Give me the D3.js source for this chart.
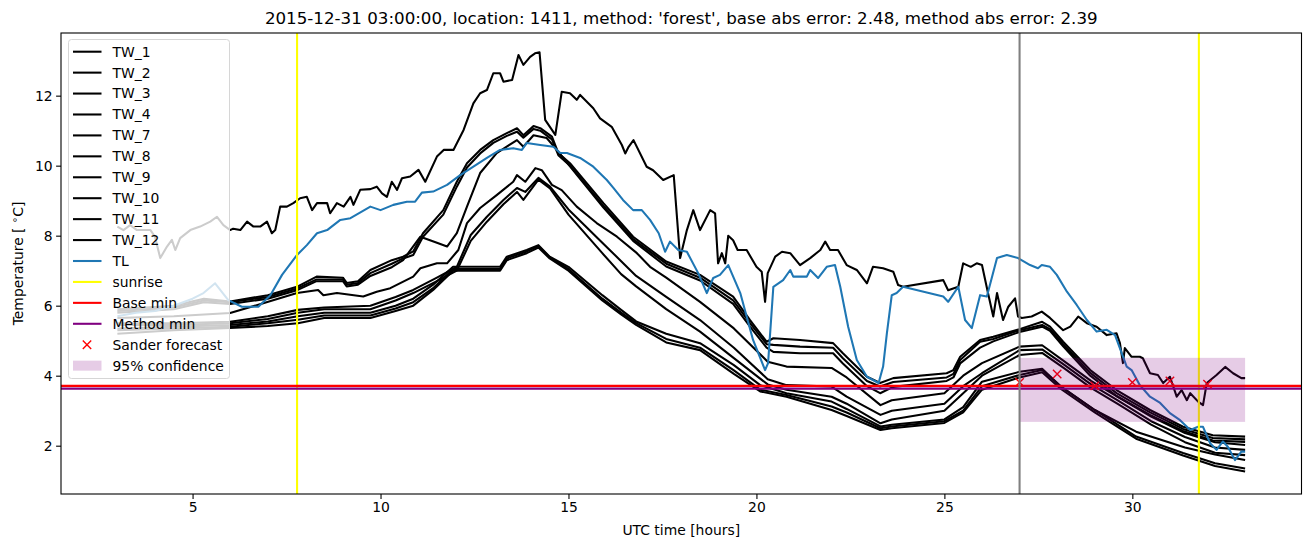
<!DOCTYPE html>
<html>
<head>
<meta charset="utf-8">
<script src="https://cdn.jsdelivr.net/npm/d3@7"></script>
<style>
  body { margin: 0; background: #fff; }
  svg { font-family: "DejaVu Sans", sans-serif; }
</style>
</head>
<body>
<svg id="chart"></svg>
<script>
// series: [hour, temperature]
const tw1 = [[3,8.26],[3.16,8.16],[3.34,8.3],[3.52,8.16],[3.88,8.16],[4.0,7.97],[4.14,7.36],[4.32,7.69],[4.45,7.88],[4.54,7.59],[4.67,7.93],[4.94,8.16],[5.2,8.26],[5.47,8.4],[5.65,8.54],[5.82,8.3],[6.0,8.16],[6.08,8.2],[6.27,8.16],[6.45,8.4],[6.62,8.26],[6.8,8.26],[6.98,8.4],[7.11,8.07],[7.2,8.16],[7.33,8.83],[7.51,8.83],[7.68,8.93],[7.86,9.07],[8.04,9.11],[8.18,8.73],[8.31,8.93],[8.58,8.93],[8.66,8.64],[8.84,8.93],[9.02,8.83],[9.2,9.11],[9.28,8.88],[9.46,9.31],[9.73,9.33],[9.9,9.4],[10.04,9.21],[10.17,9.11],[10.3,9.54],[10.44,9.31],[10.57,9.64],[10.79,9.69],[11.01,9.88],[11.19,9.54],[11.5,10.26],[11.68,10.45],[11.94,10.45],[12.21,11.02],[12.47,11.78],[12.65,12.07],[12.83,12.16],[13.0,12.64],[13.18,12.64],[13.27,12.4],[13.5,12.45],[13.67,13.16],[13.8,12.88],[13.98,13.11],[14.11,13.21],[14.23,13.24],[14.38,11.31],[14.65,10.88],[14.82,12.11],[15.04,12.07],[15.22,11.88],[15.31,12.02],[15.66,11.64],[15.84,11.35],[16.15,11.11],[16.42,10.59],[16.51,10.35],[16.6,10.54],[16.73,10.73],[17.08,9.97],[17.25,9.87],[17.52,9.59],[17.8,9.73],[17.97,7.36],[18.15,8.16],[18.32,8.73],[18.5,8.16],[18.77,8.73],[18.9,8.64],[18.98,7.21],[19.08,7.5],[19.17,7.21],[19.25,8.0],[19.38,7.87],[19.5,7.59],[19.74,7.59],[20.0,7.11],[20.14,6.97],[20.23,6.11],[20.3,6.93],[20.5,7.4],[20.68,7.54],[20.9,7.5],[21.16,7.16],[21.43,7.36],[21.7,7.59],[21.83,7.83],[21.96,7.59],[22.17,7.59],[22.4,7.16],[22.67,7.02],[22.94,6.64],[23.1,7.11],[23.37,7.07],[23.64,6.97],[23.77,6.59],[23.9,6.54],[24.97,6.73],[25.1,6.44],[25.37,6.54],[25.5,7.21],[25.7,7.11],[25.86,7.21],[26.0,7.16],[26.16,6.36],[26.3,5.69],[26.4,6.36],[26.56,5.59],[26.7,5.97],[26.88,6.21],[26.96,5.69],[27.06,5.65],[27.32,5.69],[27.59,5.83],[27.81,5.65],[28.16,5.3],[28.35,5.4],[28.56,5.69],[28.79,5.5],[29.05,5.4],[29.32,5.16],[29.58,5.21],[29.67,4.93],[29.75,4.36],[29.8,4.79],[29.98,4.54],[30.2,4.54],[30.28,4.5],[30.47,4.07],[30.68,4.02],[30.82,3.79],[31.0,3.97],[31.18,3.4],[31.31,3.59],[31.45,3.3],[31.54,3.5],[31.75,3.26],[31.88,3.16],[31.98,3.79],[32.24,4.02],[32.47,4.25],[32.68,4.07],[32.9,3.93],[33.0,3.93]];

const tw2 = [[3,5.9],[4.5,6.0],[5.3,6.2],[6.0,6.12],[7.0,6.3],[7.8,6.55],[8.3,6.83],[9.0,6.8],[9.1,6.65],[9.4,6.7],[9.73,7.02],[10.3,7.3],[10.6,7.4],[10.87,7.55],[11.13,8.07],[11.67,8.73],[12.03,9.54],[12.3,10.07],[12.65,10.45],[13.0,10.73],[13.36,10.93],[13.63,11.07],[13.8,10.87],[14.07,11.13],[14.25,11.07],[14.56,10.83],[14.73,10.36],[15.04,10.07],[15.93,8.93],[16.72,7.97],[17.6,7.26],[18.5,6.88],[19.38,6.26],[19.83,5.59],[20.27,4.97],[20.45,5.07],[21.16,5.02],[22.04,4.93],[22.3,4.64],[22.94,3.97],[23.29,3.79],[23.64,3.93],[25.06,4.07],[25.24,4.16],[25.42,4.54],[25.95,5.02],[26.3,5.11],[27.0,5.33],[27.6,5.54],[27.81,5.4],[28.16,4.97],[28.88,4.16],[29.58,3.59],[30.47,3.02],[31.35,2.54],[32.14,2.3],[33,2.26]];
const tw3 = [[3,5.85],[4.5,5.95],[5.3,6.15],[6.0,6.1],[7.0,6.25],[7.8,6.5],[8.3,6.75],[9.0,6.75],[9.1,6.6],[9.4,6.65],[9.73,6.93],[10.3,7.2],[10.6,7.35],[10.87,7.45],[11.13,7.97],[11.67,8.6],[12.03,9.4],[12.3,9.95],[12.65,10.35],[13.0,10.65],[13.36,10.85],[13.63,10.97],[13.8,10.8],[14.07,11.05],[14.25,11.0],[14.56,10.75],[14.73,10.3],[15.04,10.0],[15.93,8.85],[16.72,7.9],[17.6,7.2],[18.5,6.8],[19.38,6.15],[19.83,5.5],[20.27,4.9],[20.45,4.88],[21.16,4.83],[22.04,4.8],[22.3,4.5],[22.94,3.85],[23.29,3.69],[23.64,3.82],[25.06,3.95],[25.24,4.05],[25.42,4.45],[25.95,4.97],[26.3,5.05],[27.0,5.3],[27.6,5.45],[27.81,5.33],[28.16,4.9],[28.88,4.08],[29.58,3.5],[30.47,2.95],[31.35,2.48],[32.14,2.22],[33,2.18]];
const tw4 = [[3,5.8],[4.5,5.9],[5.3,6.1],[6.0,6.05],[7.0,6.2],[7.8,6.45],[8.3,6.7],[9.0,6.7],[9.1,6.55],[9.4,6.6],[9.73,6.85],[10.3,7.1],[10.6,7.3],[11.06,7.97],[11.5,7.8],[11.77,7.69],[12.03,8.07],[12.3,8.83],[12.65,9.79],[13.09,10.36],[13.63,10.73],[13.8,10.54],[14.07,10.87],[14.42,10.79],[14.69,10.45],[15.04,9.98],[15.93,8.8],[16.72,7.85],[17.6,7.12],[18.5,6.72],[19.38,6.05],[19.83,5.4],[20.27,4.8],[20.45,4.68],[21.16,4.64],[22.04,4.64],[22.3,4.35],[22.94,3.7],[23.29,3.5],[23.64,3.68],[25.06,3.85],[25.24,3.95],[25.42,4.35],[25.95,4.8],[26.3,4.98],[27.0,5.25],[27.6,5.4],[27.81,5.28],[28.16,4.84],[28.88,4.0],[29.58,3.42],[30.47,2.88],[31.35,2.42],[32.14,2.15],[33,2.11]];
const tw7 = [[3,5.65],[4.5,5.7],[6.0,5.79],[6.88,6.07],[7.78,6.36],[8.34,6.45],[8.48,6.3],[8.84,6.36],[9.54,6.26],[9.9,6.4],[10.26,6.5],[10.87,6.83],[11.06,7.07],[11.5,7.21],[11.77,7.21],[12.07,7.59],[12.3,8.36],[12.65,8.79],[13.09,9.16],[13.53,9.54],[13.63,9.73],[13.85,9.54],[14.12,9.93],[14.29,9.87],[14.56,9.45],[14.82,9.3],[15.22,8.83],[15.75,8.36],[16.29,7.97],[16.82,7.5],[17.17,7.11],[17.6,6.8],[18.5,6.11],[19.4,5.35],[20.3,4.4],[20.8,4.26],[22.0,4.22],[22.4,3.95],[23.3,3.16],[23.6,3.3],[25.0,3.5],[25.5,4.0],[26.0,4.36],[27.0,4.83],[27.6,4.87],[28.2,4.4],[28.9,3.85],[29.6,3.4],[30.5,2.83],[31.4,2.36],[32.2,2.1],[33,2.02]];
const tw8 = [[3,5.5],[4.5,5.5],[6.0,5.54],[7.0,5.7],[7.8,5.88],[8.5,5.95],[9.73,6.0],[10.4,6.25],[10.87,6.45],[11.5,6.8],[12.03,7.11],[12.4,8.02],[12.83,8.54],[13.27,9.02],[13.63,9.36],[13.85,9.25],[14.2,9.65],[14.51,9.4],[15.0,8.75],[15.9,7.8],[16.8,6.85],[17.6,6.25],[18.5,5.59],[19.4,4.8],[20.3,3.9],[20.8,3.73],[22.0,3.69],[22.4,3.4],[23.3,2.88],[23.6,3.0],[25.0,3.2],[25.5,3.7],[26.0,4.07],[27.0,4.73],[27.6,4.75],[28.2,4.3],[28.9,3.75],[29.6,3.3],[30.5,2.7],[31.4,2.25],[32.2,1.95],[33,1.88]];
const tw9 = [[3,5.45],[4.5,5.45],[6.0,5.5],[7.0,5.62],[7.8,5.8],[8.5,5.9],[9.73,5.9],[10.4,6.15],[10.87,6.36],[11.5,6.7],[12.03,7.0],[12.4,7.85],[12.83,8.4],[13.27,8.9],[13.63,9.25],[13.8,9.02],[14.2,9.6],[14.51,9.35],[15.0,8.6],[15.9,7.5],[16.4,6.9],[16.8,6.55],[17.6,5.9],[18.5,5.26],[19.4,4.5],[20.3,3.75],[20.8,3.6],[22.0,3.4],[22.4,3.2],[23.3,2.64],[23.6,2.75],[25.0,3.0],[25.5,3.5],[26.0,4.0],[27.0,4.59],[27.6,4.65],[28.2,4.2],[28.9,3.65],[29.6,3.2],[30.5,2.6],[31.4,2.1],[32.2,1.8],[33,1.73]];
const tw10 = [[3,5.35],[4.5,5.4],[6.0,5.45],[7.0,5.55],[7.8,5.7],[8.5,5.8],[9.73,5.8],[10.4,6.0],[10.87,6.2],[11.4,6.6],[11.93,7.11],[13.18,7.11],[13.36,7.4],[13.89,7.59],[14.2,7.73],[14.5,7.4],[15.0,7.11],[15.9,6.3],[16.4,5.88],[16.8,5.55],[17.6,5.2],[18.5,4.93],[19.4,4.3],[20.1,3.73],[20.8,3.5],[22.0,3.26],[22.4,3.05],[23.3,2.55],[23.6,2.6],[25.0,2.75],[25.5,3.1],[26.0,3.83],[27.0,4.11],[27.6,4.2],[28.1,3.69],[29.0,3.02],[30.1,2.4],[31.4,1.95],[32.2,1.75],[33,1.59]];
const tw11 = [[3,5.3],[4.5,5.35],[6.0,5.4],[7.0,5.5],[7.8,5.6],[8.5,5.72],[9.73,5.72],[10.4,5.92],[10.87,6.1],[11.4,6.5],[11.93,7.05],[13.18,7.05],[13.36,7.35],[13.89,7.55],[14.2,7.7],[14.5,7.38],[15.0,7.05],[15.9,6.2],[16.4,5.8],[16.8,5.5],[17.6,5.05],[18.5,4.8],[19.4,4.15],[20.1,3.6],[20.8,3.45],[22.0,3.12],[22.4,2.95],[23.3,2.5],[23.6,2.55],[25.0,2.7],[25.5,3.0],[26.0,3.7],[27.0,4.02],[27.6,4.16],[28.1,3.69],[29.0,3.02],[30.1,2.26],[31.35,1.79],[32.2,1.5],[33,1.35]];
const tw12 = [[3,5.2],[4.5,5.3],[6.0,5.36],[7.0,5.42],[7.8,5.5],[8.5,5.65],[9.73,5.65],[10.4,5.85],[10.87,6.0],[11.4,6.45],[11.93,7.0],[13.18,7.0],[13.36,7.3],[13.89,7.5],[14.2,7.66],[14.5,7.35],[15.0,7.0],[15.9,6.15],[16.4,5.75],[16.8,5.45],[17.6,4.95],[18.5,4.73],[19.4,4.05],[20.1,3.55],[20.8,3.4],[22.0,3.02],[22.4,2.85],[23.3,2.45],[23.6,2.5],[25.0,2.65],[25.5,2.95],[26.0,3.6],[27.0,3.95],[27.6,4.1],[28.1,3.62],[29.0,2.95],[30.1,2.2],[31.35,1.72],[32.2,1.42],[33,1.26]];

const tl = [[3,5.7],[3.5,5.8],[4.0,5.85],[4.5,6.0],[5.0,6.2],[5.29,6.36],[5.6,6.64],[5.95,6.16],[6.31,5.97],[6.75,5.97],[7.07,6.3],[7.38,6.88],[7.78,7.45],[8.04,7.73],[8.31,8.07],[8.58,8.16],[8.93,8.45],[9.2,8.5],[9.73,8.83],[10.0,8.73],[10.34,8.88],[10.7,8.97],[10.92,8.97],[11.1,9.23],[11.4,9.26],[11.77,9.45],[12.12,9.73],[12.47,9.97],[12.83,10.22],[13.18,10.45],[13.53,10.5],[13.76,10.45],[13.89,10.65],[14.25,10.59],[14.6,10.54],[14.78,10.36],[14.96,10.36],[15.31,10.22],[15.66,9.97],[16.02,9.59],[16.2,9.36],[16.45,9.02],[16.72,8.73],[16.95,8.73],[17.17,8.45],[17.4,8.07],[17.57,7.54],[17.7,7.83],[17.92,7.59],[18.15,7.54],[18.45,6.93],[18.68,6.36],[18.85,6.79],[19.03,6.88],[19.25,7.16],[19.57,6.36],[19.91,5.02],[20.23,4.16],[20.31,4.36],[20.45,6.54],[20.71,6.73],[20.9,7.02],[20.98,6.83],[21.34,6.83],[21.43,7.02],[21.64,6.79],[21.87,7.11],[22.09,7.16],[22.23,6.54],[22.44,5.4],[22.67,4.45],[22.94,3.97],[23.25,3.79],[23.37,4.26],[23.47,5.21],[23.6,6.3],[23.73,6.36],[23.9,6.54],[24.97,6.26],[25.1,6.11],[25.37,6.54],[25.55,5.59],[25.73,5.36],[25.95,6.3],[26.13,6.26],[26.4,7.36],[26.66,7.45],[26.96,7.36],[27.28,7.16],[27.49,7.07],[27.59,7.16],[27.81,7.11],[27.99,6.88],[28.26,6.4],[28.52,6.02],[28.79,5.59],[29.05,5.26],[29.32,5.31],[29.54,5.16],[29.85,4.26],[29.98,4.16],[30.2,3.73],[30.47,3.4],[30.74,3.22],[31.0,2.93],[31.27,2.73],[31.54,2.45],[31.75,2.54],[31.88,2.54],[32.07,2.07],[32.24,1.88],[32.41,2.12],[32.54,1.97],[32.73,1.59],[32.9,1.83],[33.0,1.83]];

const twNames = ['TW_1', 'TW_2', 'TW_3', 'TW_4', 'TW_7', 'TW_8', 'TW_9', 'TW_10', 'TW_11', 'TW_12'];
const twSeries = [tw1, tw2, tw3, tw4, tw7, tw8, tw9, tw10, tw11, tw12];

const sunrise = [7.78, 31.77];
const nowHour = 27;
const baseMin = 3.71;
const methodMin = 3.63;
const forecastHours = [27, 28, 29, 30, 31, 32];
const forecastValues = [3.81, 4.05, 3.71, 3.81, 3.85, 3.76];
const confidence = { x0: 27, x1: 33, lo: 2.68, hi: 4.51 };

const xTicks = [5, 10, 15, 20, 25, 30];
const yTicks = [2, 4, 6, 8, 10, 12];

const width = 1310, height = 547;
const plot = { left: 61, right: 1301.5, top: 33, bottom: 494 };
const lw = 2.08; // 1.5pt at 100 dpi

const svg = d3.select('#chart')
    .attr('width', width)
    .attr('height', height);

const x = d3.scaleLinear().domain([1.5, 34.5]).range([plot.left, plot.right]);
const y = d3.scaleLinear().domain([0.62, 13.79]).range([plot.bottom, plot.top]);

svg.append('defs').append('clipPath').attr('id', 'clip')
    .append('rect')
        .attr('x', plot.left).attr('y', plot.top)
        .attr('width', plot.right - plot.left)
        .attr('height', plot.bottom - plot.top);

const g = svg.append('g').attr('clip-path', 'url(#clip)');

const line = d3.line().x(d => x(d[0])).y(d => y(d[1]));

g.selectAll('path.tw')
    .data(twSeries)
    .join('path')
        .attr('class', 'tw')
        .attr('d', line)
        .attr('fill', 'none')
        .attr('stroke', '#000')
        .attr('stroke-width', lw)
        .attr('stroke-linejoin', 'round');

g.append('path')
    .attr('d', line(tl))
    .attr('fill', 'none')
    .attr('stroke', '#1f77b4')
    .attr('stroke-width', lw)
    .attr('stroke-linejoin', 'round');

g.selectAll('line.sunrise')
    .data(sunrise)
    .join('line')
        .attr('x1', d => x(d)).attr('x2', d => x(d))
        .attr('y1', plot.top).attr('y2', plot.bottom)
        .attr('stroke', '#ffff00')
        .attr('stroke-width', lw);

g.append('line')
    .attr('x1', plot.left).attr('x2', plot.right)
    .attr('y1', y(baseMin)).attr('y2', y(baseMin))
    .attr('stroke', '#ff0000').attr('stroke-width', lw);

g.append('line')
    .attr('x1', plot.left).attr('x2', plot.right)
    .attr('y1', y(methodMin)).attr('y2', y(methodMin))
    .attr('stroke', '#800080').attr('stroke-width', lw);

const forecast = forecastHours.map((h, i) => [h, forecastValues[i]]);
const cross = (sel, s) => sel.append('path')
    .attr('d', `M${-s},${-s}L${s},${s}M${-s},${s}L${s},${-s}`)
    .attr('stroke', '#ff0000')
    .attr('stroke-width', 1.4)
    .attr('fill', 'none');

g.selectAll('g.fc')
    .data(forecast)
    .join('g')
        .attr('class', 'fc')
        .attr('transform', d => `translate(${x(d[0])},${y(d[1])})`)
        .each(function() { cross(d3.select(this), 4.2); });

g.append('rect')
    .attr('x', x(confidence.x0))
    .attr('y', y(confidence.hi))
    .attr('width', x(confidence.x1) - x(confidence.x0))
    .attr('height', y(confidence.lo) - y(confidence.hi))
    .attr('fill', '#800080')
    .attr('fill-opacity', 0.2);

g.append('line')
    .attr('x1', x(nowHour)).attr('x2', x(nowHour))
    .attr('y1', plot.top).attr('y2', plot.bottom)
    .attr('stroke', '#808080').attr('stroke-width', lw);

// axes
const xAxis = svg.append('g')
    .attr('transform', `translate(0,${plot.bottom})`)
    .call(d3.axisBottom(x).tickValues(xTicks).tickSize(4.9).tickPadding(3.5));
const yAxis = svg.append('g')
    .attr('transform', `translate(${plot.left},0)`)
    .call(d3.axisLeft(y).tickValues(yTicks).tickSize(4.9).tickPadding(3.5));

[xAxis, yAxis].forEach(a => {
    a.select('.domain').remove();
    a.selectAll('.tick line').attr('stroke', '#000').attr('stroke-width', 1.1);
    a.selectAll('.tick text')
        .attr('fill', '#000')
        .attr('font-size', '13.9px')
        .attr('font-family', 'DejaVu Sans, sans-serif');
});

svg.append('rect')
    .attr('x', plot.left).attr('y', plot.top)
    .attr('width', plot.right - plot.left)
    .attr('height', plot.bottom - plot.top)
    .attr('fill', 'none')
    .attr('stroke', '#000')
    .attr('stroke-width', 1.1);

// labels
svg.append('text')
    .attr('x', (plot.left + plot.right) / 2)
    .attr('y', 24)
    .attr('text-anchor', 'middle')
    .attr('font-size', '16.7px')
    .text("2015-12-31 03:00:00, location: 1411, method: 'forest', base abs error: 2.48, method abs error: 2.39");

svg.append('text')
    .attr('x', (plot.left + plot.right) / 2)
    .attr('y', 535)
    .attr('text-anchor', 'middle')
    .attr('font-size', '13.9px')
    .text('UTC time [hours]');

const yLabel = svg.append('text')
    .attr('transform', `translate(23,${(plot.top + plot.bottom) / 2}) rotate(-90)`)
    .attr('text-anchor', 'middle')
    .attr('font-size', '13.9px');
yLabel.append('tspan').text('Temperature [ ');
yLabel.append('tspan').attr('font-size', '10px').attr('dy', -5).text('∘');
yLabel.append('tspan').attr('dy', 5).text('C]');

// legend
const legendItems = twNames.map(n => ({ name: n, kind: 'line', color: '#000' }))
    .concat([
        { name: 'TL', kind: 'line', color: '#1f77b4' },
        { name: 'sunrise', kind: 'line', color: '#ffff00' },
        { name: 'Base min', kind: 'line', color: '#ff0000' },
        { name: 'Method min', kind: 'line', color: '#800080' },
        { name: 'Sander forecast', kind: 'marker', color: '#ff0000' },
        { name: '95% confidence', kind: 'patch', color: '#800080' }
    ]);

const legend = svg.append('g');
legend.append('rect')
    .attr('x', 68.5).attr('y', 39.5)
    .attr('width', 161).attr('height', 339)
    .attr('rx', 3)
    .attr('fill', '#fff').attr('fill-opacity', 0.8)
    .attr('stroke', '#d6d6d6').attr('stroke-width', 1);

const rowY = i => 51.7 + i * 20.93;
const rows = legend.selectAll('g.row')
    .data(legendItems)
    .join('g')
        .attr('class', 'row')
        .attr('transform', (d, i) => `translate(0,${rowY(i)})`);

rows.filter(d => d.kind === 'line').append('line')
    .attr('x1', 73).attr('x2', 101.5)
    .attr('stroke', d => d.color).attr('stroke-width', lw);
rows.filter(d => d.kind === 'marker').append('g')
    .attr('transform', 'translate(87,0)')
    .each(function() { cross(d3.select(this), 4.2); });
rows.filter(d => d.kind === 'patch').append('rect')
    .attr('x', 73).attr('y', -5).attr('width', 28.5).attr('height', 10)
    .attr('fill', d => d.color).attr('fill-opacity', 0.2);
rows.append('text')
    .attr('x', 112.5)
    .attr('dy', '0.35em')
    .attr('font-size', '13.9px')
    .text(d => d.name);
</script>
</body>
</html>
